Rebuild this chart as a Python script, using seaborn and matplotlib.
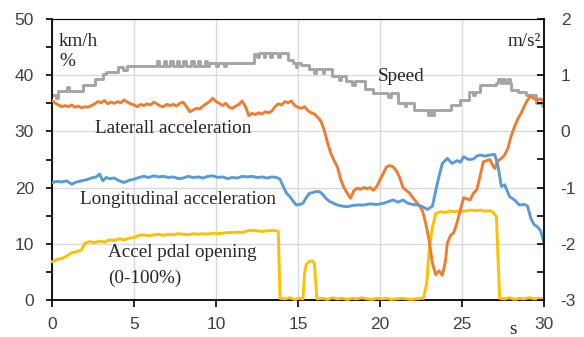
import matplotlib
matplotlib.use('Agg')
import matplotlib.pyplot as plt
import seaborn as sns
from matplotlib.ticker import MultipleLocator

# ---------------- data ----------------
speed_t = [0.0, 0.25, 0.35, 0.9, 1.05, 1.9, 2.6, 3.1, 3.3, 4.0, 4.3, 4.6,
           6.4, 6.55, 6.8, 6.95, 7.2, 7.35, 7.6, 7.75, 8.0, 8.15, 8.5, 8.65,
           8.9, 9.05, 9.3, 9.45, 9.6, 10.0, 10.1, 10.5, 10.6, 12.3, 12.5,
           12.6, 12.9, 13.0, 13.3, 13.4, 13.8, 13.9, 14.4, 14.7, 14.85, 14.95,
           15.2, 15.7, 16.0, 16.1, 16.5, 16.6, 17.1, 17.5, 17.65, 17.9, 18.3,
           18.45, 19.1, 19.6, 20.5, 20.65, 21.1, 21.5, 21.6, 22.1, 22.9,
           23.05, 23.15, 23.3, 24.3, 24.9, 25.4, 25.7, 25.8, 26.1, 27.1, 27.2,
           27.35, 27.5, 27.65, 27.8, 27.95, 28.0, 28.4, 28.9, 29.5, 29.9, 30.0]
speed_v = [36.5, 36.0, 37.2, 37.9, 37.2, 38.3, 39.3, 40.2, 40.6, 41.5, 40.9, 41.6,
           42.5, 41.6, 42.5, 41.6, 42.5, 41.6, 42.5, 41.6, 42.5, 41.6, 42.5, 41.6,
           42.5, 41.6, 42.5, 41.6, 42.2, 41.6, 42.2, 41.6, 42.2, 43.8, 43.2,
           43.9, 43.2, 43.9, 43.2, 43.9, 43.2, 43.9, 42.7, 42.1, 41.5, 42.1,
           41.8, 41.1, 40.4, 41.1, 40.4, 41.1, 39.8, 39.1, 39.8, 38.9, 38.2,
           38.9, 37.6, 36.8, 36.2, 36.8, 35.1, 34.6, 35.1, 33.8, 33.0,
           33.8, 33.0, 33.8, 34.7, 35.6, 37.0, 36.4, 37.0, 38.2, 38.6, 39.4,
           38.6, 39.4, 38.6, 39.4, 38.6, 37.4, 37.0, 36.5, 35.0, 34.5, 34.5]

pedal_t = [0.0, 0.3, 0.6, 0.9, 1.2, 1.5, 1.8, 2.0, 2.3, 2.6, 2.9, 3.2, 3.5, 3.8,
           4.1, 4.4, 4.7, 5.0, 5.3, 5.6, 5.9, 6.2, 6.5, 6.8, 7.1, 7.4, 7.7, 8.0,
           8.3, 8.6, 8.9, 9.2, 9.5, 9.8, 10.1, 10.4, 10.7, 11.0, 11.3, 11.6,
           11.9, 12.2, 12.5, 12.8, 13.1, 13.4, 13.7, 13.8, 13.9, 14.2, 14.5,
           14.8, 15.1, 15.3, 15.4, 15.5, 15.7, 15.9, 16.0, 16.15, 16.5, 16.8,
           17.1, 17.4, 17.7, 18.0, 18.3, 18.6, 18.9, 19.2, 19.5, 19.8, 20.1,
           20.4, 20.7, 21.0, 21.3, 21.6, 21.9, 22.2, 22.5, 22.65, 22.85, 23.0,
           23.2, 23.4, 23.7, 24.0, 24.3, 24.6, 24.9, 25.2, 25.5, 25.8, 26.1,
           26.4, 26.7, 26.9, 27.1, 27.2, 27.3, 27.6, 27.9, 28.2, 28.5, 28.8,
           29.1, 29.4, 29.7, 30.0]
pedal_v = [6.8, 7.2, 7.4, 7.8, 8.4, 8.6, 8.9, 10.1, 10.4, 10.2, 10.5, 10.3, 10.7,
           10.6, 10.9, 10.7, 11.0, 11.1, 11.5, 11.6, 11.4, 11.6, 11.7, 11.5,
           11.7, 11.6, 11.8, 11.7, 11.6, 11.8, 11.7, 11.8, 11.7, 11.9, 11.8,
           11.9, 12.0, 12.0, 12.1, 12.0, 12.3, 12.4, 12.3, 12.2, 12.3, 12.4,
           12.3, 12.2, 0.3, 0.2, 0.4, 0.1, 0.3, 0.2, 4.8, 6.3, 6.9, 6.9, 6.5,
           0.2, 0.3, 0.1, 0.4, 0.2, 0.3, 0.1, 0.3, 0.2, 0.4, 0.2, 0.1, 0.3, 0.2,
           0.3, 0.1, 0.2, 0.3, 0.2, 0.1, 0.2, 0.3, 0.3, 3.0, 9.0, 13.0, 15.4,
           15.7, 15.6, 15.8, 15.7, 15.9, 15.8, 16.0, 15.9, 16.0, 15.8, 15.9,
           15.6, 14.8, 7.0, 0.3, 0.2, 0.4, 0.1, 0.3, 0.2, 0.4, 0.2, 0.3, 0.2]

lat_t = [0.0, 0.2, 0.4, 0.6, 0.8, 1.0, 1.2, 1.4, 1.6, 1.8, 2.0, 2.2, 2.4, 2.6,
         2.8, 3.0, 3.2, 3.4, 3.6, 3.8, 4.0, 4.2, 4.4, 4.6, 4.8, 5.0, 5.2, 5.4,
         5.6, 5.8, 6.0, 6.2, 6.4, 6.6, 6.8, 7.0, 7.2, 7.4, 7.6, 7.8, 8.0, 8.2,
         8.4, 8.6, 8.8, 9.0, 9.2, 9.4, 9.6, 9.8, 10.0, 10.2, 10.4, 10.6, 10.8,
         11.0, 11.2, 11.4, 11.6, 11.8, 12.0, 12.2, 12.4, 12.6, 12.8, 13.0,
         13.2, 13.4, 13.6, 13.8, 14.0, 14.2, 14.4, 14.6, 14.8, 15.0, 15.2,
         15.4, 15.6, 15.8, 16.0, 16.2, 16.4, 16.6, 16.8, 17.0, 17.2, 17.4,
         17.6, 17.8, 18.0, 18.2, 18.4, 18.6, 18.8, 19.0, 19.2, 19.4, 19.6,
         19.8, 20.0, 20.2, 20.4, 20.6, 20.8, 21.0, 21.2, 21.4, 21.6, 21.8,
         22.0, 22.2, 22.4, 22.6, 22.8, 23.0, 23.2, 23.4, 23.6, 23.8, 24.0,
         24.1, 24.3, 24.5, 24.7, 24.9, 25.1, 25.3, 25.5, 25.7, 25.9, 26.1,
         26.3, 26.5, 26.7, 26.9, 27.0, 27.2, 27.4, 27.6, 27.8, 28.0, 28.2,
         28.4, 28.6, 28.8, 29.0, 29.2, 29.4, 29.6, 29.8, 30.0]
lat_v = [0.55, 0.50, 0.47, 0.44, 0.46, 0.44, 0.47, 0.43, 0.45, 0.42, 0.44, 0.43,
         0.46, 0.49, 0.53, 0.51, 0.55, 0.49, 0.52, 0.50, 0.53, 0.51, 0.56, 0.52,
         0.49, 0.47, 0.44, 0.48, 0.46, 0.49, 0.47, 0.52, 0.49, 0.45, 0.44, 0.48,
         0.46, 0.48, 0.45, 0.50, 0.52, 0.44, 0.35, 0.38, 0.41, 0.40, 0.45, 0.49,
         0.53, 0.59, 0.53, 0.50, 0.46, 0.50, 0.43, 0.41, 0.45, 0.48, 0.54, 0.44,
         0.28, 0.32, 0.30, 0.33, 0.31, 0.35, 0.33, 0.36, 0.44, 0.49, 0.47, 0.53,
         0.51, 0.54, 0.46, 0.43, 0.41, 0.44, 0.37, 0.33, 0.31, 0.25, 0.18, 0.02,
         -0.20, -0.39, -0.52, -0.63, -0.85, -1.00, -1.10, -1.19, -1.06, -1.01,
         -1.03, -1.00, -1.02, -1.00, -1.05, -0.98, -0.86, -0.75, -0.63, -0.61,
         -0.63, -0.70, -0.82, -1.00, -1.05, -1.10, -1.18, -1.25, -1.32, -1.42,
         -1.65, -1.95, -2.35, -2.55, -2.48, -2.56, -2.30, -1.99, -1.85, -1.80,
         -1.62, -1.40, -1.18, -1.20, -1.22, -1.10, -1.04, -0.80, -0.54, -0.52,
         -0.50, -0.62, -0.66, -0.52, -0.48, -0.42, -0.30, -0.08, 0.08, 0.22,
         0.32, 0.45, 0.56, 0.63, 0.58, 0.56, 0.58, 0.52]

lon_t = [0.0, 0.3, 0.6, 0.9, 1.2, 1.5, 1.8, 2.1, 2.4, 2.7, 2.9, 3.1, 3.3, 3.5,
         3.8, 4.1, 4.4, 4.7, 5.0, 5.3, 5.6, 5.9, 6.2, 6.5, 6.8, 7.1, 7.4, 7.7,
         8.0, 8.3, 8.6, 8.9, 9.2, 9.5, 9.8, 10.1, 10.4, 10.7, 11.0, 11.3, 11.6,
         11.9, 12.2, 12.5, 12.8, 13.1, 13.4, 13.7, 13.9, 14.1, 14.3, 14.5,
         14.7, 14.9, 15.1, 15.3, 15.5, 15.7, 15.9, 16.1, 16.3, 16.5, 16.7,
         16.9, 17.1, 17.4, 17.7, 18.0, 18.3, 18.6, 19.0, 19.4, 19.8, 20.2,
         20.5, 20.8, 21.1, 21.4, 21.7, 22.0, 22.3, 22.6, 22.9, 23.2, 23.4,
         23.6, 23.8, 24.1, 24.4, 24.7, 24.9, 25.1, 25.4, 25.7, 25.9, 26.1,
         26.4, 26.7, 27.0, 27.2, 27.4, 27.6, 27.9, 28.2, 28.5, 28.8, 29.0,
         29.2, 29.4, 29.6, 29.8, 30.0]
lon_v = [-0.91, -0.89, -0.90, -0.88, -0.94, -0.90, -0.88, -0.86, -0.83, -0.81,
         -0.76, -0.88, -0.82, -0.84, -0.83, -0.88, -0.91, -0.87, -0.85, -0.82,
         -0.80, -0.82, -0.79, -0.81, -0.80, -0.82, -0.81, -0.84, -0.83, -0.80,
         -0.82, -0.81, -0.83, -0.80, -0.79, -0.82, -0.81, -0.84, -0.82, -0.83,
         -0.80, -0.81, -0.80, -0.82, -0.81, -0.83, -0.81, -0.82, -0.85, -0.98,
         -1.10, -1.16, -1.24, -1.31, -1.30, -1.28, -1.18, -1.10, -1.09, -1.07,
         -1.07, -1.12, -1.19, -1.24, -1.27, -1.31, -1.33, -1.34, -1.32, -1.31,
         -1.31, -1.29, -1.30, -1.28, -1.25, -1.22, -1.26, -1.22, -1.28, -1.30,
         -1.31, -1.34, -1.39, -1.33, -1.05, -0.80, -0.57, -0.48, -0.57, -0.52,
         -0.55, -0.45, -0.50, -0.49, -0.44, -0.42, -0.44, -0.42, -0.41, -0.63,
         -0.98, -0.95, -1.16, -1.22, -1.31, -1.30, -1.33, -1.55, -1.66, -1.70,
         -1.77, -1.99]

x_ticks = [0, 5, 10, 15, 20, 25, 30]
left_ticks = [0, 10, 20, 30, 40, 50]
right_ticks = [-3, -2, -1, 0, 1, 2]

# ---------------- style ----------------
sns.set_style('white')
plt.rcParams['font.family'] = ['Liberation Sans', 'DejaVu Sans']
plt.rcParams['axes.unicode_minus'] = False
SERIF = ['Liberation Serif', 'DejaVu Serif']

C_SPEED = '#A5A5A5'
C_PEDAL = '#FFC000'
C_LAT = '#ED7D31'
C_LON = '#5B9BD5'
LW = 2.1

fig = plt.figure(figsize=(5.84, 3.37), dpi=100)
ax = fig.add_axes([52 / 584, 1 - 300 / 337, (544 - 52) / 584, (300 - 19) / 337])
ax2 = ax.twinx()

sns.lineplot(x=speed_t, y=speed_v, ax=ax, color=C_SPEED, linewidth=LW,
             drawstyle='steps-post', estimator=None)
sns.lineplot(x=pedal_t, y=pedal_v, ax=ax, color=C_PEDAL, linewidth=LW,
             estimator=None, clip_on=False, zorder=4)
sns.lineplot(x=lat_t, y=lat_v, ax=ax2, color=C_LAT, linewidth=LW, estimator=None)
sns.lineplot(x=lon_t, y=lon_v, ax=ax2, color=C_LON, linewidth=LW, estimator=None)

ax.set_xlim(0, 30)
ax.set_ylim(0, 50)
ax2.set_ylim(-3, 2)
for a in (ax, ax2):
    a.set_xlabel('')
    a.set_ylabel('')

ax.set_xticks(x_ticks)
ax.set_yticks(left_ticks)
ax.yaxis.set_minor_locator(MultipleLocator(5))
ax2.set_yticks(right_ticks)
ax2.yaxis.set_minor_locator(MultipleLocator(0.5))

ax.grid(True, which='major', color='#D9D9D9', linewidth=1.0)
ax.set_axisbelow(True)

for s in ('left', 'bottom'):
    ax.spines[s].set_color('black')
    ax.spines[s].set_linewidth(1.3)
ax.spines['top'].set_color('black')
ax.spines['top'].set_linewidth(0.8)
ax.spines['right'].set_visible(False)
ax2.spines['right'].set_color('black')
ax2.spines['right'].set_linewidth(1.3)
for s in ('left', 'bottom', 'top'):
    ax2.spines[s].set_visible(False)

TICK_COL = '#404040'
TS = 12.5
ax.tick_params(axis='y', which='both', direction='out', length=4, width=1.2,
               color='black', labelsize=TS, labelcolor=TICK_COL, pad=9, left=True)
ax.tick_params(axis='x', which='major', direction='out', length=5, width=1.2,
               color='black', labelsize=TS, labelcolor=TICK_COL, pad=7, bottom=True)
ax2.tick_params(axis='y', which='both', direction='in', length=5, width=1.2,
                color='black', labelsize=TS, labelcolor=TICK_COL, pad=12, right=True)

# ---------------- annotations ----------------
FS = 13.8
ax.text(0.43, 46.0, 'km/h', family=SERIF, fontsize=FS, ha='left', va='center')
ax.text(0.43, 42.4, '%', family=SERIF, fontsize=FS, ha='left', va='center')
ax.text(29.8, 46.0, 'm/s²', family=SERIF, fontsize=FS, ha='right', va='center')
ax.text(19.88, 39.7, 'Speed', family=SERIF, fontsize=FS, ha='left', va='center')
ax.text(2.62, 30.6, 'Laterall acceleration', family=SERIF, fontsize=FS,
        ha='left', va='center')
ax.text(1.71, 17.8, 'Longitudinal acceleration', family=SERIF, fontsize=FS,
        ha='left', va='center')
ax.text(3.41, 8.4, 'Accel pdal opening', family=SERIF, fontsize=FS,
        ha='left', va='center')
ax.text(3.41, 3.9, '(0-100%)', family=SERIF, fontsize=FS, ha='left', va='center')
fig.text(513 / 584, 1 - 329 / 337, 's', family=SERIF, fontsize=FS,
         ha='center', va='center')

fig.savefig('out.png', dpi=100)
